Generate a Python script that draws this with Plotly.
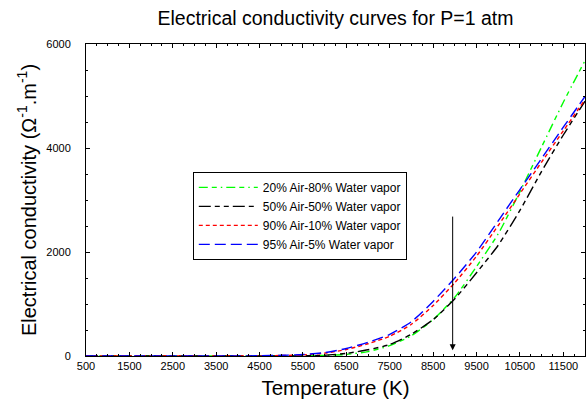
import plotly.graph_objects as go

temperature = [500, 1000, 1500, 2000, 2500, 3000, 3500, 4000, 4500, 5000, 5500, 6000,
               6500, 7000, 7500, 8000, 8500, 9000, 9500, 10000, 10500, 11000, 11500, 12000]

sigma_20air = [0, 0, 0, 0, 0, 0, 0, 0, 0, 0, 2, 12,
               30, 85, 200, 390, 700, 1130, 1720, 2350, 3160, 4020, 4880, 5680]
sigma_50air = [0, 0, 0, 0, 0, 0, 0, 0, 0, 0, 3, 14,
               50, 120, 220, 420, 700, 1100, 1600, 2130, 2800, 3550, 4250, 4900]
sigma_90air = [0, 0, 0, 0, 0, 0, 0, 0, 3, 9, 22, 55,
               125, 235, 380, 610, 970, 1410, 1920, 2510, 3120, 3730, 4330, 4930]
sigma_95air = [0, 0, 0, 0, 0, 0, 0, 0, 5, 13, 28, 65,
               145, 265, 415, 660, 1050, 1500, 2000, 2600, 3200, 3800, 4400, 4990]

series_names = ["20% Air-80% Water vapor", "50% Air-50% Water vapor",
                "90% Air-10% Water vapor", "95% Air-5% Water vapor"]
series_values = [sigma_20air, sigma_50air, sigma_90air, sigma_95air]
series_colors = ["#00ff00", "#000000", "#ff0000", "#0000ff"]
series_dash = ["9px,4px,5px,4px,1.5px,4px", "12px,4px,5px,4px,5px,4px", "4px,3px", "11px,5px"]

x_tickvals = [500, 1500, 2500, 3500, 4500, 5500, 6500, 7500, 8500, 9500, 10500, 11500]
y_tickvals = [0, 2000, 4000, 6000]

arrow_T = 8950
arrow_top = 2710
arrow_tip = 110

font_family = "Arial, Liberation Sans, sans-serif"

fig = go.Figure()
for name, vals, col, dash in zip(series_names, series_values, series_colors, series_dash):
    fig.add_trace(go.Scatter(x=temperature, y=vals, mode="lines", name=name,
                             line=dict(color=col, width=1.4, dash=dash, shape="spline",
                                       smoothing=0.6)))

fig.add_annotation(x=arrow_T, y=arrow_tip, ax=arrow_T, ay=arrow_top,
                   xref="x", yref="y", axref="x", ayref="y",
                   showarrow=True, arrowhead=2, arrowsize=1.2, arrowwidth=1,
                   arrowcolor="black", text="")

axis_common = dict(showline=True, linecolor="black", linewidth=1, mirror="allticks",
                   ticks="inside", ticklen=4, tickcolor="black", showgrid=False,
                   zeroline=False, automargin=False,
                   tickfont=dict(family=font_family, size=11, color="black"))

fig.update_layout(
    width=586, height=407,
    margin=dict(l=86, r=1, t=44, b=51),
    paper_bgcolor="white", plot_bgcolor="white",
    font=dict(family=font_family, color="black"),
    title=dict(text="Electrical conductivity curves for P=1 atm", x=0.5, xref="paper",
               xanchor="center", y=0.955, yref="container", yanchor="middle", automargin=False,
               font=dict(family=font_family, size=19.5, color="black")),
    xaxis=dict(range=[500, 12000], tickvals=x_tickvals, ticktext=[str(v) for v in x_tickvals],
               minor=dict(ticks="inside", ticklen=2, tickcolor="black", dtick=250, tick0=500),
               ticklabelstandoff=0,
               title=dict(text="Temperature (K)", standoff=9,
                          font=dict(family=font_family, size=20.5, color="black")),
               **axis_common),
    yaxis=dict(range=[0, 6000], tickvals=y_tickvals, ticktext=[str(v) for v in y_tickvals],
               minor=dict(ticks="inside", ticklen=2, tickcolor="black", dtick=500, tick0=0),
               ticklabelstandoff=12,
               title=dict(text="Electrical conductivity (Ω<sup>-1</sup>.m<sup>-1</sup>)", standoff=4,
                          font=dict(family=font_family, size=20, color="black")),
               **axis_common),
    legend=dict(x=0.214, y=0.59, xanchor="left", yanchor="top",
                bordercolor="black", borderwidth=1, bgcolor="white",
                font=dict(family=font_family, size=12, color="black"),
                tracegroupgap=0, itemwidth=59),
    showlegend=True,
)

fig.write_html("out.html", config={"displayModeBar": False},
               post_script="document.body.style.margin='0';document.body.style.overflow='hidden';")
